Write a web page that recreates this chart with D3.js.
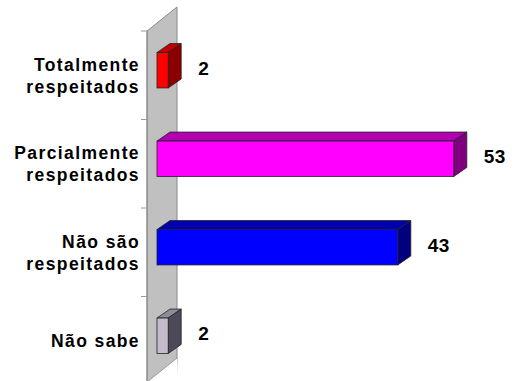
<!DOCTYPE html>
<html>
<head>
<meta charset="utf-8">
<script src="https://cdn.jsdelivr.net/npm/d3@7"></script>
<style>
  html, body { margin: 0; padding: 0; background: #ffffff; }
  svg { display: block; }
  text { font-family: Arial, "Liberation Sans", sans-serif; font-weight: bold; fill: #000; }
</style>
</head>
<body>
<svg id="chart" width="515" height="381"></svg>
<script>
// ---- data ----
const categories = [["Totalmente", "respeitados"], ["Parcialmente", "respeitados"], ["Não são", "respeitados"], ["Não sabe"]];
const values = [2, 53, 43, 2];
const frontColors = ["#ff0000", "#ff00ff", "#0000ff", "#c4bccc"];
const topColors = ["#c00000", "#b000b0", "#0000b0", "#8c8c96"];
const sideColors = ["#8c0000", "#800080", "#000080", "#4c4a58"];

const W = 515, H = 381;
const svg = d3.select("#chart");

const keys = categories.map(c => c.join(" "));
const wallX = 147, wallDX = 30, wallDY = -24;
const depthX = 13, depthY = -9;

const x = d3.scaleLinear().domain([0, 60]).range([157, 157 + 60 * 5.6]);
const y = d3.scaleBand().domain(keys).range([26, 380]).paddingInner(0.6).paddingOuter(0.3);
const step = y.step();
const tickShift = 5;

// wall
const wallTop = y.range()[0] + tickShift;
svg.append("path")
  .attr("d", `M${wallX},${wallTop} L${wallX + wallDX},${wallTop + wallDY} L${wallX + wallDX},${H + 40} L${wallX},${H + 40} Z`)
  .attr("fill", "#c0c0c0").attr("stroke", "#8a8a8a").attr("stroke-width", 1);
// bottom edge of wall
const wallBottom = wallTop + step * 4 - 3;
svg.append("path")
  .attr("d", `M${wallX + wallDX},${wallBottom + wallDY} L${wallX},${wallBottom} L${wallX},${H + 10} L${wallX + wallDX + 2},${H + 10} Z`)
  .attr("fill", "#ffffff");
svg.append("line")
  .attr("x1", wallX + wallDX).attr("y1", wallBottom + wallDY)
  .attr("x2", wallX).attr("y2", wallBottom)
  .attr("stroke", "#9a9a9a");
svg.append("line")
  .attr("x1", wallX).attr("y1", wallTop).attr("x2", wallX).attr("y2", H)
  .attr("stroke", "#8a8a8a");

// ticks
d3.range(keys.length).forEach(i => {
  const ty = wallTop + i * step;
  svg.append("line").attr("x1", wallX - 6).attr("x2", wallX).attr("y1", ty).attr("y2", ty)
    .attr("stroke", "#9a9a9a").attr("stroke-width", 1);
});

// bars
const g = svg.append("g");
keys.forEach((k, i) => {
  const x0 = x(0), x1 = x(values[i]);
  const y0 = y(k), y1 = y(k) + y.bandwidth();
  const bar = g.append("g");
  // top face
  bar.append("path")
    .attr("d", `M${x0},${y0} L${x0 + depthX},${y0 + depthY} L${x1 + depthX},${y0 + depthY} L${x1},${y0} Z`)
    .attr("fill", topColors[i]).attr("stroke", "#222").attr("stroke-width", 0.8).attr("stroke-linejoin", "round");
  // side face
  bar.append("path")
    .attr("d", `M${x1},${y0} L${x1 + depthX},${y0 + depthY} L${x1 + depthX},${y1 + depthY} L${x1},${y1} Z`)
    .attr("fill", sideColors[i]).attr("stroke", "#222").attr("stroke-width", 0.8).attr("stroke-linejoin", "round");
  // front face
  bar.append("rect")
    .attr("x", x0).attr("y", y0).attr("width", x1 - x0).attr("height", y1 - y0)
    .attr("fill", frontColors[i]).attr("stroke", "#222").attr("stroke-width", 0.8);
  // value label
  svg.append("text")
    .attr("x", x1 + depthX + 17)
    .attr("y", y0 + y.bandwidth() / 2 - 2)
    .attr("dy", "0.35em")
    .attr("font-size", 19)
    .attr("letter-spacing", 0.5)
    .text(values[i]);
});

// category labels
const lineH = 22;
categories.forEach((lines, i) => {
  const cy = y(keys[i]) + y.bandwidth() / 2 + tickShift;
  const t = svg.append("text")
    .attr("text-anchor", "end")
    .attr("font-size", 17.5)
    .attr("letter-spacing", 1.4);
  lines.forEach((ln, j) => {
    t.append("tspan")
      .attr("x", 140)
      .attr("y", cy + (j - (lines.length - 1) / 2) * lineH)
      .attr("dy", "0.36em")
      .text(ln);
  });
});
</script>
</body>
</html>
